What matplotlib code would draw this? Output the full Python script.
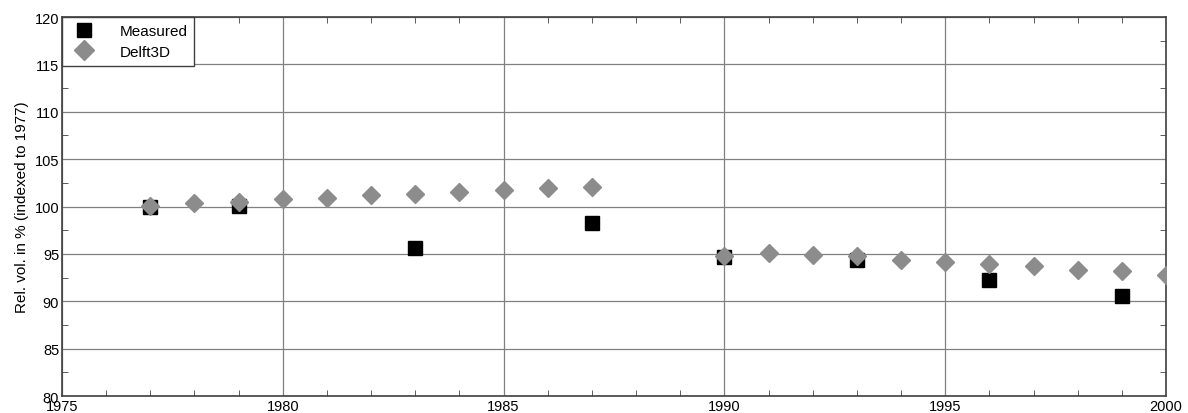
import matplotlib
matplotlib.use('Agg')
import matplotlib.pyplot as plt
from matplotlib.ticker import MultipleLocator

plt.rcParams['font.family'] = ['Liberation Sans', 'DejaVu Sans']

# measured volumes (relative to 1977)
meas_year = [1977, 1979, 1983, 1987, 1990, 1993, 1996, 1999]
meas_vol = [100.0, 100.1, 95.6, 98.25, 94.65, 94.4, 92.25, 90.6]

# Delft3D model results
d3d_year = [1977, 1978, 1979, 1980, 1981, 1982, 1983, 1984, 1985, 1986, 1987,
            1990, 1991, 1992, 1993, 1994, 1995, 1996, 1997, 1998, 1999, 2000]
d3d_vol = [100.05, 100.35, 100.5, 100.8, 100.95, 101.2, 101.35, 101.55, 101.75, 101.95, 102.1,
           94.75, 95.05, 94.9, 94.75, 94.4, 94.1, 93.9, 93.7, 93.35, 93.2, 92.8]

fig = plt.figure(figsize=(11.88, 4.14), dpi=100)
ax = fig.add_axes([0.0522, 0.041, 0.9293, 0.9155])

ax.plot(meas_year, meas_vol, 's', color='black', markersize=10, label='Measured', zorder=3)
ax.plot(d3d_year, d3d_vol, 'D', color='#8c8c8c', markersize=9.5, label='Delft3D', zorder=4)

ax.set_xlim(1975, 2000)
ax.set_ylim(80, 120)
ax.xaxis.set_major_locator(MultipleLocator(5))
ax.xaxis.set_minor_locator(MultipleLocator(1))
ax.yaxis.set_major_locator(MultipleLocator(5))
ax.yaxis.set_minor_locator(MultipleLocator(2.5))
ax.tick_params(which='both', direction='in', top=True, right=True, labelsize=10.5, color='#404040')
ax.tick_params(which='major', length=0, pad=2)
ax.tick_params(which='minor', length=4)
ax.grid(True, which='major', color='#808080', linewidth=0.9)
for s in ax.spines.values():
    s.set_color('#404040')
    s.set_linewidth(1.2)

ax.set_ylabel('Rel. vol. in % (indexed to 1977)', fontsize=11, labelpad=4)

leg = ax.legend(loc='upper left', fontsize=11, fancybox=False, framealpha=1,
                edgecolor='#404040', borderaxespad=0, handletextpad=1.3,
                borderpad=0.45, labelspacing=0.45, markerscale=1.05)
leg.get_frame().set_linewidth(1.0)

fig.savefig('out.png', dpi=100)
